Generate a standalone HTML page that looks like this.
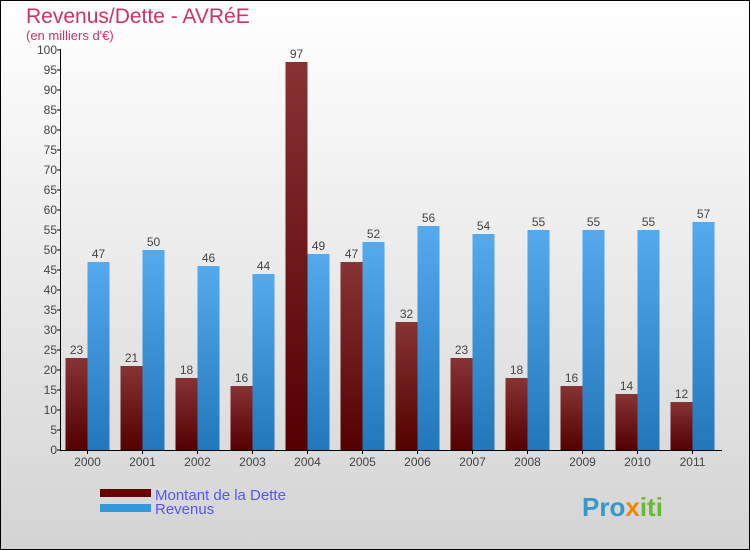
<!DOCTYPE html>
<html><head><meta charset="utf-8"><style>
body{margin:0}
svg{display:block;font-family:"Liberation Sans",sans-serif}
</style></head><body>
<svg id="c" width="750" height="550">
<defs>
<linearGradient id="bg" x1="0" y1="0" x2="0" y2="1"><stop offset="0" stop-color="#ffffff"/><stop offset="1" stop-color="#d4d4d4"/></linearGradient>
<linearGradient id="gd" x1="0" y1="0" x2="0" y2="1"><stop offset="0" stop-color="#883333"/><stop offset="1" stop-color="#550000"/></linearGradient>
<linearGradient id="gr" x1="0" y1="0" x2="0" y2="1"><stop offset="0" stop-color="#55aaee"/><stop offset="1" stop-color="#2277bb"/></linearGradient>
</defs>
<rect x="0.5" y="0.5" width="749" height="549" fill="url(#bg)" stroke="#000"/>
<text x="26" y="23" font-size="21" fill="#cc3366">Revenus/Dette - AVRéE</text>
<text x="26" y="40" font-size="13" fill="#cc3366">(en milliers d'€)</text>
<g id="bars"></g>
<g id="axes"></g>
<rect x="100" y="489" width="51" height="8" fill="#660000"/>
<text x="155" y="500" font-size="15" fill="#5555ee">Montant de la Dette</text>
<rect x="100" y="504" width="51" height="8" fill="#3399dd"/>
<text x="155" y="514" font-size="15" fill="#5555ee">Revenus</text>
<text x="582" y="516" font-size="26" font-weight="bold" fill="#3399cc">Pro<tspan fill="#ee8800">x</tspan><tspan fill="#66bb33">iti</tspan></text>
</svg>
<script>
const years=["2000","2001","2002","2003","2004","2005","2006","2007","2008","2009","2010","2011"];
const dette=[23,21,18,16,97,47,32,23,18,16,14,12];
const revenus=[47,50,46,44,49,52,56,54,55,55,55,57];
const ticks=[0,5,10,15,20,25,30,35,40,45,50,55,60,65,70,75,80,85,90,95,100];
const NS="http://www.w3.org/2000/svg";
const y=v=>450-v*4;
const gx=i=>65.5+i*55;
const bw=22;
const bars=document.getElementById('bars'),axes=document.getElementById('axes');
function mk(t,a,p,txt){const e=document.createElementNS(NS,t);for(const k in a)e.setAttribute(k,a[k]);if(txt!=null)e.textContent=txt;p.appendChild(e);return e;}
years.forEach((yr,i)=>{
 const x=gx(i);
 const r1=mk('rect',{x:x,y:y(dette[i]),width:bw,height:dette[i]*4,fill:'url(#gd)'},bars);
 
 
 const r2=mk('rect',{x:x+bw,y:y(revenus[i]),width:bw,height:revenus[i]*4,fill:'url(#gr)'},bars);
 
 
 const t1=mk('text',{x:x+bw/2,y:y(dette[i])-4,'font-size':12,fill:'#444','text-anchor':'middle'},bars,dette[i]);
 
 
 const t2=mk('text',{x:x+bw*1.5,y:y(revenus[i])-4,'font-size':12,fill:'#444','text-anchor':'middle'},bars,revenus[i]);
 
 
 const xl=mk('text',{x:x+bw,y:466,'font-size':12,fill:'#444','text-anchor':'middle'},axes,yr);
 
 
 mk('line',{x1:x+bw,x2:x+bw,y1:450,y2:454,stroke:'#000'},axes);
});
ticks.forEach(t=>{
 mk('line',{x1:57,x2:61,y1:y(t),y2:y(t),stroke:'#000'},axes);
 const l=mk('text',{x:57,y:y(t)+4,'font-size':12,fill:'#444','text-anchor':'end'},axes,t);
 
 
});
const ya=mk('line',{x1:60.5,x2:60.5,y1:49,y2:450.5,stroke:'#000'},axes);


const xa=mk('line',{x1:60,x2:722,y1:450.5,y2:450.5,stroke:'#000'},axes);


</script>
</body></html>
